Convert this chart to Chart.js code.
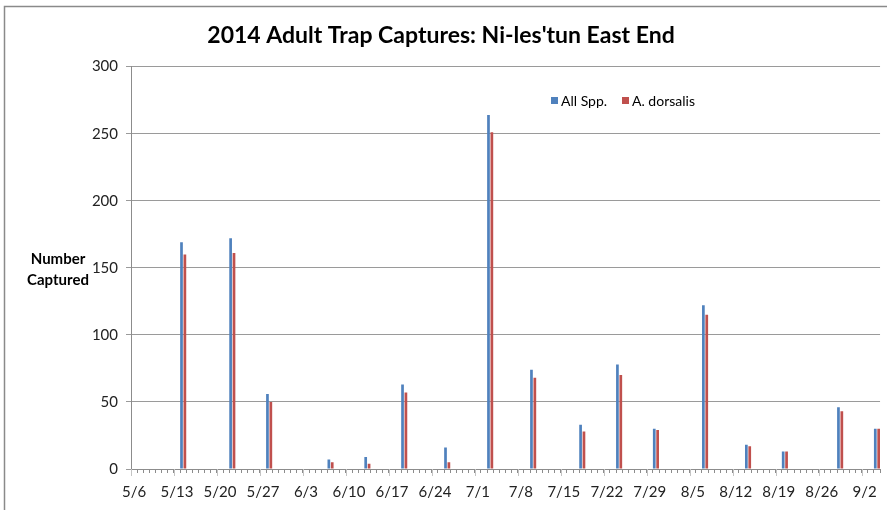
<!DOCTYPE html>
<html>
<head>
<meta charset="utf-8">
<script src="https://cdn.jsdelivr.net/npm/chart.js@4.4.0/dist/chart.umd.min.js"></script>
<style>
  html, body { margin: 0; padding: 0; background: #fff; }
  #wrap { width: 887px; height: 510px; }
</style>
</head>
<body>
<div id="wrap"><canvas id="trapChart" width="887" height="510"></canvas></div>
<script>
// trap check dates and counts
const sampleDates = ['5/14', '5/22', '5/28', '6/7', '6/13', '6/19', '6/26', '7/3', '7/10',
  '7/18', '7/24', '7/30', '8/7', '8/14', '8/20', '8/29', '9/4'];
const allSpp   = [169, 172, 56, 7, 9, 63, 16, 264, 74, 33, 78, 30, 122, 18, 13, 46, 30];
const dorsalis = [160, 161, 50, 5, 4, 57, 5, 251, 68, 28, 70, 29, 115, 17, 13, 43, 30];

// weekly tick labels on the date axis
const tickLabels = ['5/6', '5/13', '5/20', '5/27', '6/3', '6/10', '6/17', '6/24', '7/1',
  '7/8', '7/15', '7/22', '7/29', '8/5', '8/12', '8/19', '8/26', '9/2'];

const seriesNames = ['All Spp.', 'A. dorsalis'];
const seriesColors = ['#4F81BD', '#C0504D'];

// daily date axis 5/6 .. 9/4
const monthDays = { 5: 31, 6: 30, 7: 31, 8: 31, 9: 30 };
const days = [];
let m = 5, d = 6;
while (!(m === 9 && d > 4)) {
  days.push(m + '/' + d);
  d++;
  if (d > monthDays[m]) { d = 1; m++; }
}

function onDays(dates, vals) {
  return days.map(day => {
    const i = dates.indexOf(day);
    return i < 0 ? null : vals[i];
  });
}

const font = 'Lato, "Open Sans", sans-serif';

// background, outer frame, horizontal axis title, legend, weekly ticks
const extras = {
  id: 'extras',
  beforeDraw(chart) {
    const { ctx, width, height } = chart;
    ctx.save();
    ctx.fillStyle = '#fff';
    ctx.fillRect(0, 0, width, height);
    ctx.strokeStyle = '#8a8a8a';
    ctx.lineWidth = 1.5;
    ctx.beginPath();
    ctx.moveTo(4.5, height);
    ctx.lineTo(4.5, 6.5);
    ctx.lineTo(width, 6.5);
    ctx.stroke();
    ctx.restore();
  },
  afterDraw(chart) {
    const { ctx } = chart;
    const x = chart.scales.x;
    ctx.save();

    // weekly (major) ticks
    const half = (x.getPixelForValue(1) - x.getPixelForValue(0)) / 2;
    ctx.strokeStyle = '#c4c4c4';
    ctx.lineWidth = 1;
    tickLabels.forEach(lbl => {
      const i = days.indexOf(lbl);
      const px = Math.round(x.getPixelForValue(i) - half) + 0.5;
      ctx.beginPath();
      ctx.moveTo(px, x.top);
      ctx.lineTo(px, x.top + 7);
      ctx.stroke();
    });

    // y axis title, horizontal
    ctx.fillStyle = '#000';
    ctx.font = 'bold 15px ' + font;
    ctx.textAlign = 'center';
    ctx.textBaseline = 'middle';
    ctx.fillText('Number', 58, 259);
    ctx.fillText('Captured', 58, 280);

    // legend inside plot
    ctx.font = '14px ' + font;
    ctx.textAlign = 'left';
    const lx = [551, 622];
    seriesNames.forEach((name, k) => {
      ctx.fillStyle = seriesColors[k];
      ctx.fillRect(lx[k], 97, 7, 7);
      ctx.fillStyle = '#000';
      ctx.fillText(name, lx[k] + 10, 101);
    });
    ctx.restore();
  }
};

new Chart(document.getElementById('trapChart'), {
  type: 'bar',
  data: {
    labels: days,
    datasets: seriesNames.map((name, k) => ({
      label: name,
      data: onDays(sampleDates, k === 0 ? allSpp : dorsalis),
      backgroundColor: seriesColors[k],
      categoryPercentage: 1.1,
      barPercentage: 0.8
    }))
  },
  options: {
    responsive: false,
    animation: false,
    layout: { padding: { left: 0, right: 5, top: 0, bottom: 0 } },
    plugins: {
      legend: { display: false },
      tooltip: { enabled: false },
      title: {
        display: true,
        text: "2014 Adult Trap Captures: Ni-les'tun East End",
        color: '#000',
        font: { family: font, size: 23, weight: 'bold' },
        padding: { top: 22, bottom: 17 }
      }
    },
    scales: {
      x: {
        grid: { drawOnChartArea: false, tickLength: 4, color: '#8c8c8c', offset: true },
        border: { color: '#8c8c8c' },
        ticks: {
          autoSkip: false,
          maxRotation: 0,
          minRotation: 0,
          padding: 10,
          color: '#222',
          font: { family: font, size: 15 },
          callback: (v, i) => tickLabels.includes(days[i]) ? days[i] : ''
        },
        afterFit: s => { s.height = 41; }
      },
      y: {
        min: 0,
        max: 300,
        ticks: {
          stepSize: 50,
          padding: 8,
          color: '#222',
          font: { family: font, size: 15 }
        },
        grid: { color: '#9a9a9a', tickLength: 5 },
        border: { color: '#8c8c8c' },
        afterFit: s => { s.width = 131; }
      }
    }
  },
  plugins: [extras]
});
</script>
</body>
</html>
